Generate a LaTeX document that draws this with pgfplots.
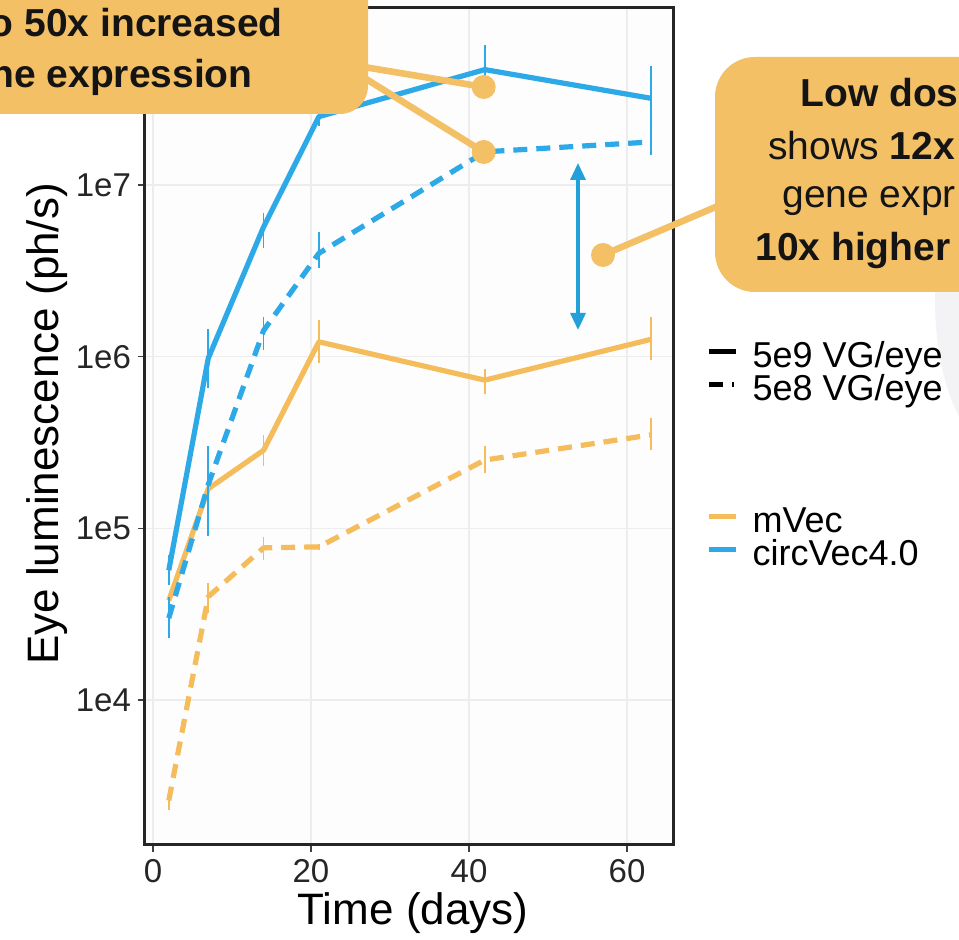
\documentclass[border=0pt]{standalone}
\usepackage{pgfplots}
\usepackage{pgfplotstable}
\pgfplotsset{compat=1.18}
\usepackage{fontspec}
\setmainfont{Liberation Sans}
\usetikzlibrary{arrows.meta}
\definecolor{blueL}{HTML}{2CA9E6}
\definecolor{orangeL}{HTML}{F5BC5C}
\definecolor{callout}{HTML}{F3C066}
\definecolor{arrowB}{HTML}{22A0DA}
\definecolor{gridc}{HTML}{EDEDED}
\definecolor{panel}{HTML}{FDFDFE}
\definecolor{txt}{HTML}{141414}
\definecolor{bgshape}{HTML}{F3F3F6}

% circVec4.0, 5e9 VG/eye
\pgfplotstableread{
x y ep em
2 5.7e4 1.3e4 1.0e4
7 9.8e5 4.6e5 3.2e5
14 5.7e6 1.2e6 1.4e6
21 2.5e7 2.5e6 3.0e6
42 4.7e7 1.8e7 1.4e7
63 3.2e7 1.7e7 1.1e7
}\circHigh
% circVec4.0, 5e8 VG/eye
\pgfplotstableread{
x y ep em
2 3.0e4 1.0e4 0.7e4
7 1.8e5 1.2e5 0.9e5
14 1.42e6 2.8e5 3.2e5
21 4.0e6 1.3e6 0.7e6
42 1.56e7 1.0e6 1.0e6
63 1.78e7 3.2e6 2.8e6
}\circLow
% mVec, 5e9 VG/eye
\pgfplotstableread{
x y ep em
2 3.8e4 3e3 3e3
7 1.7e5 2e4 2e4
14 2.85e5 6.5e4 5.5e4
21 1.22e6 4.2e5 3.0e5
42 7.3e5 1.2e5 1.2e5
63 1.26e6 4.4e5 3.0e5
}\mvecHigh
% mVec, 5e8 VG/eye
\pgfplotstableread{
x y ep em
2 2.6e3 3e2 3e2
7 4.0e4 8e3 8e3
14 7.7e4 1.2e4 1.2e4
21 7.8e4 3e3 3e3
42 2.5e5 5e4 4e4
63 3.5e5 9e4 6.5e4
}\mvecLow

\begin{document}
\begin{tikzpicture}
\useasboundingbox (0,0) rectangle (479.5pt,470pt);
\clip (0,0) rectangle (479.5pt,470pt);
\fill[white] (0,0) rectangle (479.5pt,470pt);
\begin{scope}[x=0.5pt,y=-0.5pt,shift={(0pt,470pt)}]
  \fill[bgshape] (1000,300) ellipse [x radius=32.5pt, y radius=75pt];
\end{scope}
\begin{axis}[
  at={(72.5pt,47.5pt)}, anchor=south west,
  scale only axis, width=264pt, height=418.5pt,
  xmin=-1.01, xmax=65.82,
  ymode=log, ymin=1431, ymax=1.074e8,
  xtick={0,20,40,60}, xticklabels={0,20,40,60},
  ytick={1e4,1e5,1e6,1e7}, yticklabels={1e4,1e5,1e6,1e7},
  yminorticks=false,
  tick align=outside, major tick length=3.5pt,
  xtick pos=bottom, ytick pos=left,
  tick style={color=black!75, line width=0.8pt},
  grid=major, major grid style={gridc, line width=0.6pt},
  axis line style={black!85, line width=1.5pt},
  axis background/.style={fill=panel},
  ticklabel style={font=\fontsize{16.5}{18}\selectfont, text=black!85},
  xlabel={Time (days)}, ylabel={Eye luminescence (ph/s)},
  label style={font=\fontsize{22}{24}\selectfont},
  xlabel style={at={(axis description cs:0.5076,-0.0956)}, anchor=base},
  ylabel style={at={(axis description cs:-0.163,0.503)}, anchor=base},
  legend image code/.code={\draw[#1] (0pt,3.8pt) -- (13.5pt,3.8pt);},
  legend cell align=left,
  legend style={at={(axis description cs:1.0625,0.5998)}, anchor=north west,
    draw=none, fill=none, font=\fontsize{18}{20}\selectfont,
    row sep=1pt, column sep=7pt, inner sep=0pt,
    nodes={inner sep=0pt, text height=12pt, text depth=3.5pt}},
]
\addplot[orangeL, line width=2.6pt, dash pattern=on 7pt off 4.5pt, line join=round, forget plot,
  error bars/.cd, y dir=both, y explicit, error mark=none,
  error bar style={line width=0.9pt, solid}]
  table[x=x, y=y, y error plus=ep, y error minus=em]{\mvecLow};
\addplot[orangeL, line width=2.6pt, line join=round, forget plot,
  error bars/.cd, y dir=both, y explicit, error mark=none,
  error bar style={line width=0.9pt, solid}]
  table[x=x, y=y, y error plus=ep, y error minus=em]{\mvecHigh};
\addplot[blueL, line width=2.6pt, dash pattern=on 7pt off 4.5pt, line join=round, forget plot,
  error bars/.cd, y dir=both, y explicit, error mark=none,
  error bar style={line width=0.9pt, solid}]
  table[x=x, y=y, y error plus=ep, y error minus=em]{\circLow};
\addplot[blueL, line width=2.6pt, line join=round, forget plot,
  error bars/.cd, y dir=both, y explicit, error mark=none,
  error bar style={line width=0.9pt, solid}]
  table[x=x, y=y, y error plus=ep, y error minus=em]{\circHigh};
\addlegendimage{black, line width=2.6pt}
\addlegendentry{5e9 VG/eye}
\addlegendimage{black, line width=2.6pt, dash pattern=on 7pt off 4.5pt on 1.2pt off 20pt}
\addlegendentry{5e8 VG/eye}
\addlegendimage{empty legend}\addlegendentry{}
\addlegendimage{empty legend}\addlegendentry{}
\addlegendimage{empty legend}\addlegendentry{}
\addlegendimage{orangeL, line width=2.6pt}
\addlegendentry{mVec}
\addlegendimage{blueL, line width=2.6pt}
\addlegendentry{circVec4.0}
\end{axis}
\begin{scope}[x=0.5pt,y=-0.5pt,shift={(0pt,470pt)}]
  % left callout
  \fill[callout, rounded corners=14pt] (-60,-60) rectangle (368,114);
  \node[anchor=base east, inner sep=0pt, text=txt, font=\bfseries\fontsize{19.5}{22}\selectfont] at (283,37) {o 50x increased};
  \node[anchor=base east, inner sep=0pt, text=txt, font=\bfseries\fontsize{19.5}{22}\selectfont] at (253,88) {ne expression};
  \draw[callout, line width=3.3pt] (358,66) -- (483.7,87);
  \draw[callout, line width=3.3pt] (358,74) -- (483.7,152);
  \fill[callout] (483.7,87) circle (6pt);
  \fill[callout] (483.7,152) circle (6pt);
  % double arrow
  \draw[arrowB, line width=1.6pt, {Triangle[length=8.5pt,width=7.5pt]}-{Triangle[length=8.5pt,width=7.5pt]}] (578,163) -- (578,330);
  % right callout
  \draw[callout, line width=3.3pt] (603,255) -- (725,203);
  \fill[callout] (603,255) circle (6pt);
  \fill[callout, rounded corners=20pt] (715,57) rectangle (1010,292);
  \node[anchor=base west, inner sep=0pt, text=txt, font=\bfseries\fontsize{19.5}{22}\selectfont] at (800,107) {Low dos};
  \node[anchor=base west, inner sep=0pt, text=txt, font=\fontsize{19.5}{22}\selectfont] at (768,160) {shows \textbf{12x}};
  \node[anchor=base west, inner sep=0pt, text=txt, font=\fontsize{19.5}{22}\selectfont] at (782,208) {gene expr};
  \node[anchor=base west, inner sep=0pt, text=txt, font=\bfseries\fontsize{19.5}{22}\selectfont] at (755,261) {10x higher};
\end{scope}
\end{tikzpicture}
\end{document}
